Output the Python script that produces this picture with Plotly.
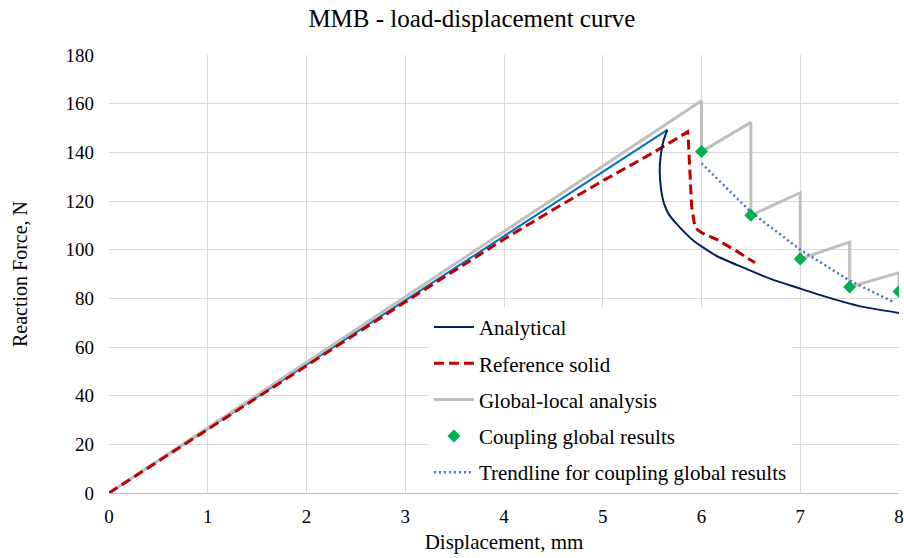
import plotly.graph_objects as go

# Analytical solution: linear loading branch and softening branch
analytical_lin_x = [0.0, 5.654]
analytical_lin_y = [0.0, 149.2]
analytical_x = [5.654, 5.613, 5.585, 5.577, 5.59, 5.62, 5.67, 5.75, 5.917, 6.15, 6.4, 6.7, 7.0, 7.27, 7.6, 8.0]
analytical_y = [149.2, 144.5, 138.0, 132.0, 125.0, 119.0, 114.5, 110.5, 103.8, 97.5, 93.0, 88.0, 84.0, 80.5, 76.8, 74.0]

# Reference solid model
reference_x = [0.0, 1.0, 2.0, 3.0, 3.5, 4.0, 4.5, 5.0, 5.5, 5.86, 5.866, 5.884, 5.90, 5.934, 6.0, 6.153, 6.357, 6.542]
reference_y = [0.0, 26.0, 52.3, 78.5, 91.5, 104.3, 116.5, 128.3, 139.6, 148.4, 145.4, 131.7, 117.9, 109.0, 107.0, 104.2, 99.4, 94.6]

# Global-local analysis (saw-tooth response)
global_local_x = [0.0, 6.0, 6.0, 6.5, 6.5, 7.0, 7.0, 7.5, 7.5, 8.0, 8.0]
global_local_y = [0.0, 161.2, 140.3, 152.3, 114.1, 123.4, 96.2, 103.1, 84.7, 90.5, 82.8]

# Coupling global results
coupling_x = [6.0, 6.5, 7.0, 7.5, 8.0]
coupling_y = [140.3, 114.1, 96.2, 84.7, 82.8]

# Trendline through the coupling results
trend_x = [6.0, 6.5, 7.0, 7.5, 7.95]
trend_y = [135.5, 115.5, 100.0, 87.3, 78.4]

x_ticks = [0, 1, 2, 3, 4, 5, 6, 7, 8]
y_ticks = [0, 20, 40, 60, 80, 100, 120, 140, 160, 180]

FONT = "Liberation Serif, Times New Roman, serif"
GRID = "#d9d9d9"

fig = go.Figure()

fig.add_trace(go.Scatter(
    x=analytical_lin_x, y=analytical_lin_y, mode="lines",
    line=dict(color="#0070C0", width=2), showlegend=False, hoverinfo="skip",
))
fig.add_trace(go.Scatter(
    x=global_local_x, y=global_local_y, mode="lines", name="Global-local analysis",
    line=dict(color="#BFBFBF", width=3), legendrank=3, legendgroup="c",
))
fig.add_trace(go.Scatter(
    x=reference_x, y=reference_y, mode="lines", name="Reference solid",
    line=dict(color="#C00000", width=3, dash="10px,5px"), legendrank=2, legendgroup="b",
))
fig.add_trace(go.Scatter(
    x=analytical_x, y=analytical_y, mode="lines", name="Analytical",
    line=dict(color="#002060", width=2, shape="spline", smoothing=0.6),
    legendrank=1, legendgroup="a",
))
fig.add_trace(go.Scatter(
    x=trend_x, y=trend_y, mode="lines", name="Trendline for coupling global results",
    line=dict(color="#4472C4", width=2.5, dash="2px,3px"), legendrank=5, legendgroup="e",
))
fig.add_trace(go.Scatter(
    x=coupling_x, y=coupling_y, mode="markers", name="Coupling global results",
    marker=dict(symbol="diamond", color="#00B050", size=10, line=dict(width=0)),
    legendrank=4, legendgroup="d",
))

fig.update_layout(
    width=904, height=558,
    margin=dict(l=109, r=5, t=55, b=65),
    paper_bgcolor="white", plot_bgcolor="white",
    font=dict(family=FONT, color="#000000", size=19),
    title=dict(text="MMB - load-displacement curve", x=0.522, xanchor="center",
               y=0.968, yanchor="middle", font=dict(family=FONT, size=25, color="#000000")),
    xaxis=dict(
        range=[0, 8], tickvals=x_ticks, ticktext=[str(v) for v in x_ticks],
        showgrid=True, gridcolor=GRID, gridwidth=1, zeroline=False,
        showline=True, linecolor="#BFBFBF", linewidth=1, mirror=False,
        ticks="", ticklabelstandoff=6, automargin=False,
        title=dict(text="Displacement, mm", font=dict(family=FONT, size=21), standoff=8),
    ),
    yaxis=dict(
        range=[0, 180], tickvals=y_ticks, ticktext=[str(v) for v in y_ticks],
        showgrid=True, gridcolor=GRID, gridwidth=1, zeroline=False,
        showline=False, ticks="", ticklabelstandoff=14, automargin=False,
        title=dict(text="Reaction Force, N", font=dict(family=FONT, size=20), standoff=32),
    ),
    legend=dict(
        x=0.405, y=0.425, xanchor="left", yanchor="top",
        bgcolor="white", borderwidth=0,
        font=dict(family=FONT, size=21, color="#000000"),
        traceorder="grouped", tracegroupgap=6, itemwidth=40,
    ),
    showlegend=True,
)

fig.write_html("out.html")
